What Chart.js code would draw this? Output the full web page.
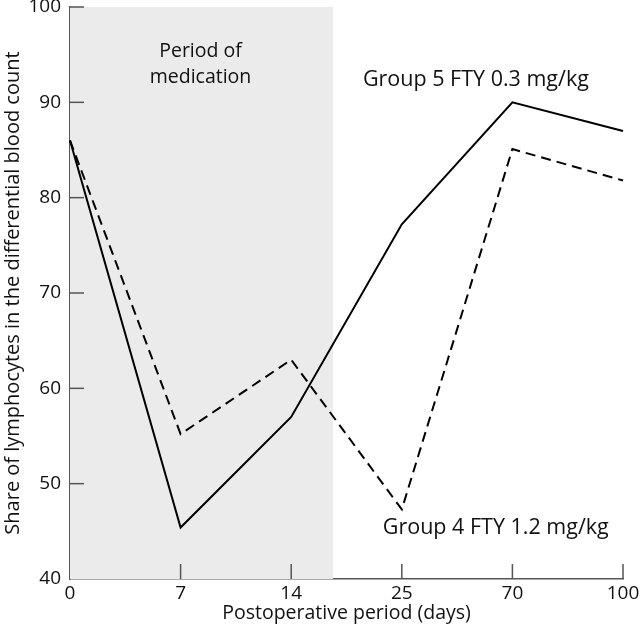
<!DOCTYPE html>
<html>
<head>
<meta charset="utf-8">
<script src="https://cdn.jsdelivr.net/npm/chart.js@4/dist/chart.umd.min.js"></script>
<style>
html,body{margin:0;padding:0;background:#fff;}
#wrap{width:640px;height:636px;position:relative;}
</style>
</head>
<body>
<div id="wrap"><canvas id="c" width="640" height="636"></canvas></div>
<script>
const days = ['0', '7', '14', '25', '70', '100'];
const group5Values = [86, 45.4, 57, 77.2, 90, 87];
const group4Values = [86, 55.2, 63, 47.3, 85.1, 81.8];
const yTicks = [40, 50, 60, 70, 80, 90, 100];
const group5Label = 'Group 5 FTY 0.3 mg/kg';
const group4Label = 'Group 4 FTY 1.2 mg/kg';
const periodLabel = ['Period of', 'medication'];
const medicationEndIndex = 2.377;

const FONT = '"Open Sans", Lato, sans-serif';
const AXIS_COLOR = '#555';

const decor = {
  id: 'decor',
  beforeDatasetsDraw(chart) {
    const {ctx, scales: {x, y}} = chart;
    ctx.save();
    const x0 = x.getPixelForValue(0);
    const x1 = x.getPixelForValue(medicationEndIndex);
    const yt = y.getPixelForValue(100);
    const yb = y.getPixelForValue(40);
    ctx.fillStyle = '#ebebeb';
    ctx.fillRect(x0, yt, x1 - x0, yb - yt);
    ctx.fillStyle = '#111';
    ctx.font = '19.5px ' + FONT;
    ctx.textAlign = 'center';
    ctx.textBaseline = 'middle';
    ctx.fillText(periodLabel[0], x.getPixelForValue(1.18), y.getPixelForValue(95.3));
    ctx.fillText(periodLabel[1], x.getPixelForValue(1.18), y.getPixelForValue(92.65));
    ctx.restore();
  },
  afterDatasetsDraw(chart) {
    const {ctx, scales: {x, y}} = chart;
    ctx.save();
    ctx.strokeStyle = AXIS_COLOR;
    ctx.lineWidth = 1.5;
    const yb = y.getPixelForValue(40);
    const xl = x.getPixelForValue(0);
    for (let i = 1; i < days.length; i++) {
      const px = x.getPixelForValue(i);
      ctx.beginPath();
      ctx.moveTo(px, yb);
      ctx.lineTo(px, yb - 15);
      ctx.stroke();
    }
    for (const v of yTicks) {
      if (v === 40) continue;
      const py = y.getPixelForValue(v);
      ctx.beginPath();
      ctx.moveTo(xl, py);
      ctx.lineTo(xl + 14, py);
      ctx.stroke();
    }
    ctx.fillStyle = '#111';
    ctx.font = '21.5px ' + FONT;
    ctx.textAlign = 'center';
    ctx.textBaseline = 'middle';
    ctx.fillText(group5Label, x.getPixelForValue(3.67), y.getPixelForValue(92.4));
    ctx.fillText(group4Label, x.getPixelForValue(3.85), y.getPixelForValue(45.4));
    ctx.restore();
  }
};

new Chart(document.getElementById('c'), {
  type: 'line',
  data: {
    labels: days,
    datasets: [
      {
        label: group5Label,
        data: group5Values,
        borderColor: '#000',
        borderWidth: 2,
        pointRadius: 0,
        tension: 0,
        fill: false
      },
      {
        label: group4Label,
        data: group4Values,
        borderColor: '#000',
        borderWidth: 2,
        borderDash: [10, 6],
        pointRadius: 0,
        tension: 0,
        fill: false
      }
    ]
  },
  options: {
    responsive: false,
    animation: false,
    devicePixelRatio: 1,
    layout: {padding: {left: 0, right: 17, top: 7, bottom: 0}},
    plugins: {legend: {display: false}, tooltip: {enabled: false}},
    scales: {
      x: {
        type: 'category',
        offset: false,
        grid: {display: false, drawTicks: false},
        border: {display: true, color: AXIS_COLOR, width: 1.5},
        ticks: {color: '#111', font: {family: FONT, size: 19}, padding: 3, maxRotation: 0, autoSkip: false},
        title: {display: true, text: 'Postoperative period (days)', color: '#111', font: {family: FONT, size: 19.5}, padding: {top: 0, bottom: 11}},
        afterFit(s) { s.height = 57; s.paddingLeft = 0; s.paddingRight = 0; }
      },
      y: {
        min: 40,
        max: 100,
        afterBuildTicks(s) { s.ticks = yTicks.map(v => ({value: v})); },
        grid: {display: false, drawTicks: false},
        border: {display: true, color: AXIS_COLOR, width: 1.5},
        ticks: {color: '#111', font: {family: FONT, size: 19}, padding: 9},
        title: {display: true, text: 'Share of lymphocytes in the differential blood count', color: '#111', font: {family: FONT, size: 20}, padding: {top: 1, bottom: 0}},
        afterFit(s) { s.width = 70; s.paddingTop = 0; s.paddingBottom = 0; }
      }
    }
  },
  plugins: [decor]
});
</script>
</body>
</html>
